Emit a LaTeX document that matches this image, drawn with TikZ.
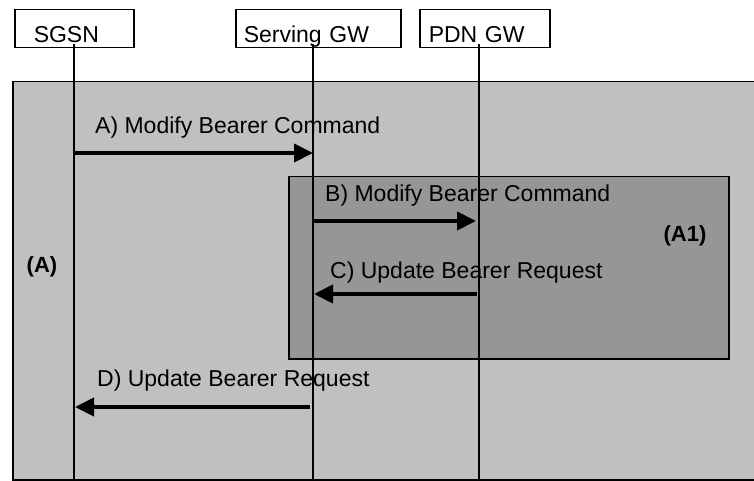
\documentclass[tikz,border=0pt]{standalone}
\usepackage{fontspec}
\setmainfont{Liberation Sans}
\usetikzlibrary{arrows.meta,positioning}

\begin{document}
\begin{tikzpicture}[
    x=1pt, y=-1pt,
    font=\fontsize{23}{27}\selectfont,
    hdr/.style={draw, line width=1.5pt, anchor=north west, minimum height=38pt, text height=31pt, text depth=3pt, inner ysep=2pt, align=left},
    area/.style={draw, line width=1.5pt, anchor=north west, inner sep=0pt},
    life/.style={line width=1.5pt},
    msg/.style={line width=4pt, -{Triangle[length=19pt, width=18pt]}},
    lbl/.style={anchor=west, inner sep=0pt},
    tag/.style={font=\fontsize{22}{26}\selectfont\bfseries, inner sep=0pt}
]
\useasboundingbox (0,0) rectangle (754,481);
% procedure areas
\node[area, fill={rgb,255:red,192;green,192;blue,192}, minimum width=760pt, minimum height=398pt] (areaA) at (12,81) {};
\node[area, fill={rgb,255:red,150;green,150;blue,150}, minimum width=440pt, minimum height=182pt] (areaA1) at (288,176) {};
\node[tag] (tagA) at (42,267) {(A)};
\node[tag] (tagA1) at (685,236) {(A1)};
% entities
\node[hdr, inner xsep=19pt, text width=81pt] (sgsn) at (14,9) {SGSN};
\node[hdr, inner xsep=8pt, text width=149pt] (sgw) at (235,9) {Serving GW};
\node[hdr, inner xsep=9pt, text width=112pt] (pgw) at (419,9) {PDN GW};
% lifelines
\coordinate (sgsnE) at (74,481);
\coordinate (sgwE) at (313,481);
\coordinate (pgwE) at (479,481);
\draw[life] (sgsn.south -| sgsnE) ++(0,-4) -- (sgsnE);
\draw[life] (sgw.south -| sgwE) ++(0,-4) -- (sgwE);
\draw[life] (pgw.south -| pgwE) ++(0,-4) -- (pgwE);
% messages
\coordinate (a1) at (74,153);  \coordinate (a2) at (313,153);
\coordinate (b1) at (313,221); \coordinate (b2) at (476,221);
\coordinate (c1) at (477,294); \coordinate (c2) at (314,294);
\coordinate (d1) at (310,407); \coordinate (d2) at (75,407);
\draw[msg] (a1) -- (a2);
\draw[msg] (b1) -- (b2);
\draw[msg] (c1) -- (c2);
\draw[msg] (d1) -- (d2);
\node[lbl] (msgA) at (95,128) {A) Modify Bearer Command};
\node[lbl] (msgB) at (325,196) {B) Modify Bearer Command};
\node[lbl] (msgC) at (330,273) {C) Update Bearer Request};
\node[lbl] (msgD) at (97,381) {D) Update Bearer Request};
\end{tikzpicture}
\end{document}
